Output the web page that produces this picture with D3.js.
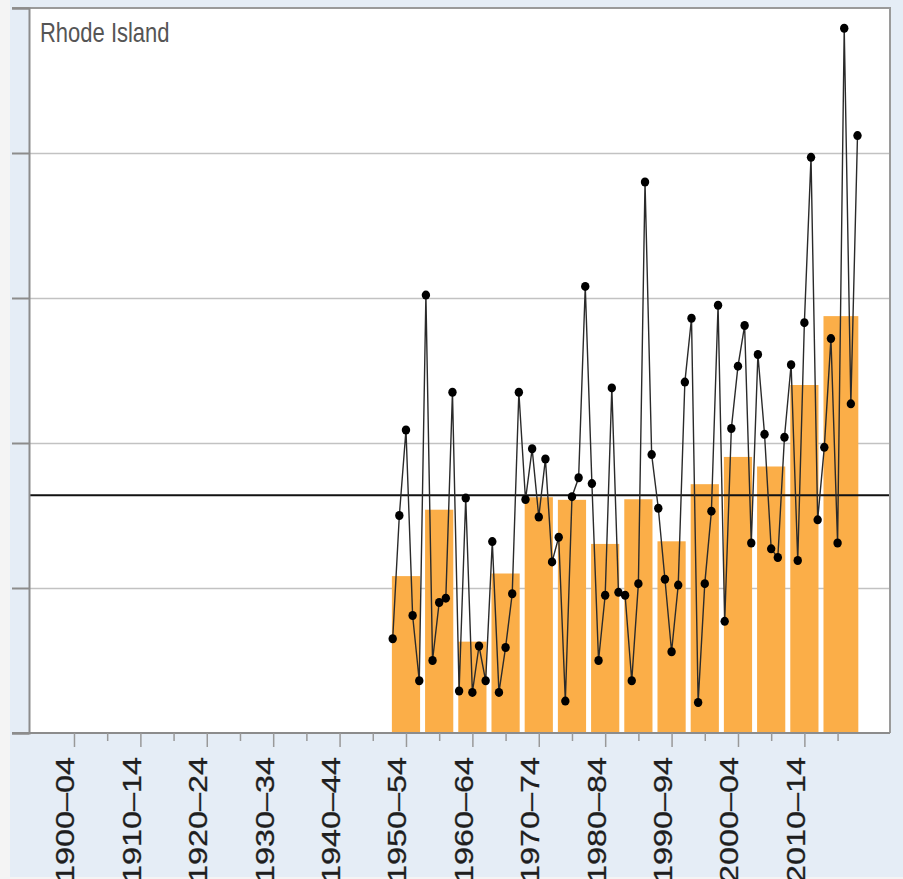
<!DOCTYPE html>
<html>
<head>
<meta charset="utf-8">
<script src="https://cdn.jsdelivr.net/npm/d3@7"></script>
<style>
  html, body { margin: 0; padding: 0; background: #f4f4f4; }
  svg { display: block; font-family: "Liberation Sans", Arial, sans-serif; }
</style>
</head>
<body>
<div id="chart"></div>
<script>
// Rhode Island — annual values with 5-year averages (bars)

const title = 'Rhode Island';
const firstYear = 1950;
// annual values 1950..2020 (gridline = 1 unit)
const annual = [
  0.65, 1.50, 2.09, 0.81, 0.36,   // 1950-54
  3.02, 0.50, 0.90, 0.93, 2.35,   // 1955-59
  0.29, 1.62, 0.28, 0.60, 0.36,   // 1960-64
  1.32, 0.28, 0.59, 0.96, 2.35,   // 1965-69
  1.61, 1.96, 1.49, 1.89, 1.18,   // 1970-74
  1.35, 0.22, 1.63, 1.76, 3.08,   // 1975-79
  1.72, 0.50, 0.95, 2.38, 0.97,   // 1980-84
  0.95, 0.36, 1.03, 3.80, 1.92,   // 1985-89
  1.55, 1.06, 0.56, 1.02, 2.42,   // 1990-94
  2.86, 0.21, 1.03, 1.53, 2.95,   // 1995-99
  0.77, 2.10, 2.53, 2.81, 1.31,   // 2000-04
  2.61, 2.06, 1.27, 1.21, 2.04,   // 2005-09
  2.54, 1.19, 2.83, 3.97, 1.47,   // 2010-14
  1.97, 2.72, 1.31, 4.86, 2.27,   // 2015-19
  4.12                            // 2020
];
// bar periods [start, end] — the last one runs to 2020
const periods = [
  [1950, 1954], [1955, 1959], [1960, 1964], [1965, 1969], [1970, 1974],
  [1975, 1979], [1980, 1984], [1985, 1989], [1990, 1994], [1995, 1999],
  [2000, 2004], [2005, 2009], [2010, 2014], [2015, 2020]
];
const longTermAvg = 1.64;
const yTicks = [0, 1, 2, 3, 4, 5];
const xLabels = ['1900–04', '1910–14', '1920–24', '1930–34', '1940–44', '1950–54',
                 '1960–64', '1970–74', '1980–84', '1990–94', '2000–04', '2010–14'];
const xMinor = [1905, 1915, 1925, 1935, 1945, 1955, 1965, 1975, 1985, 1995, 2005, 2015];

const W = 903, H = 879;
const plot = { left: 29, right: 890, top: 8, bottom: 733 };
const stretch = 1.27; // picture is stretched vertically

const svg = d3.select('#chart').append('svg')
  .attr('width', W).attr('height', H);

// panel background
svg.append('rect').attr('x', 10).attr('y', 0).attr('width', W - 10).attr('height', 877)
  .attr('fill', '#e5edf6');
svg.append('rect').attr('x', plot.left).attr('y', plot.top)
  .attr('width', plot.right - plot.left).attr('height', plot.bottom - plot.top)
  .attr('fill', '#fff');

const x = d3.scaleLinear().domain([1950, 2020]).range([392.7, 857.5]);
const yr = x(1951) - x(1950);
const y = d3.scaleLinear().domain([0, 5]).range([plot.bottom, plot.top]);

// gridlines
svg.append('g')
  .attr('transform', `translate(${plot.left},0)`)
  .call(d3.axisRight(y).tickValues([1, 2, 3, 4]).tickSize(plot.right - plot.left).tickFormat(''))
  .call(g => g.select('.domain').remove())
  .call(g => g.selectAll('line').attr('stroke', '#c2c2c2').attr('stroke-width', 1.6));

// 5-year averages
const bars = periods.map(([s, e]) => ({
  s, e, v: d3.mean(annual.slice(s - firstYear, e - firstYear + 1))
}));
svg.append('g').selectAll('rect').data(bars).enter().append('rect')
  .attr('x', d => x(d.s) - yr / 2 + 2.5)
  .attr('width', d => x(d.e) - x(d.s) + yr - 5)
  .attr('y', d => y(d.v))
  .attr('height', d => y(0) - y(d.v))
  .attr('fill', '#fbae48');

// long-term average
svg.append('line')
  .attr('x1', plot.left).attr('x2', plot.right)
  .attr('y1', y(longTermAvg)).attr('y2', y(longTermAvg))
  .attr('stroke', '#111').attr('stroke-width', 2);

// annual line + points
const pts = annual.map((v, i) => ({ year: firstYear + i, v }));
svg.append('path').datum(pts)
  .attr('fill', 'none').attr('stroke', '#2a2a2a').attr('stroke-width', 1.4)
  .attr('d', d3.line().x(d => x(d.year)).y(d => y(d.v)));
svg.append('g').selectAll('ellipse').data(pts).enter().append('ellipse')
  .attr('cx', d => x(d.year)).attr('cy', d => y(d.v))
  .attr('rx', 4.2).attr('ry', 4.5).attr('fill', '#000');

// frame: right + top border
svg.append('path')
  .attr('d', `M12,${plot.top}H${plot.right}V${plot.bottom}`)
  .attr('fill', 'none').attr('stroke', '#9a9a9a').attr('stroke-width', 2);

// y axis (ticks only, no labels)
svg.append('g')
  .attr('transform', `translate(${plot.left},0)`)
  .call(d3.axisLeft(y).tickValues(yTicks).tickSize(17).tickFormat(''))
  .call(g => g.select('.domain').attr('stroke', '#8c8c8c').attr('stroke-width', 2))
  .call(g => g.selectAll('line').attr('stroke', '#8c8c8c').attr('stroke-width', 2));

// x axis
svg.append('line')
  .attr('x1', 12).attr('x2', plot.right).attr('y1', plot.bottom).attr('y2', plot.bottom)
  .attr('stroke', '#8c8c8c').attr('stroke-width', 2);

const majorPos = xLabels.map(l => +l.slice(0, 4) + 2);
svg.append('g').attr('transform', `translate(0,${plot.bottom})`)
  .call(d3.axisBottom(x).tickValues(majorPos).tickSize(14).tickFormat(''))
  .call(g => g.select('.domain').remove())
  .call(g => g.selectAll('line').attr('stroke', '#999').attr('stroke-width', 1.5));
svg.append('g').attr('transform', `translate(0,${plot.bottom})`)
  .call(d3.axisBottom(x).tickValues(xMinor.map(v => v + 2)).tickSize(8).tickFormat(''))
  .call(g => g.select('.domain').remove())
  .call(g => g.selectAll('line').attr('stroke', '#999').attr('stroke-width', 1.5));

// period labels (the bottom of each is cut by the picture edge, as in the source)
svg.append('g').selectAll('text').data(xLabels).enter().append('text')
  .attr('transform', (d, i) => `translate(${x(majorPos[i]) + 0.5},757) rotate(-90) scale(${stretch},1)`)
  .attr('text-anchor', 'end')
  .attr('font-size', '25.5px')
  .attr('fill', '#1e1e1e')
  .attr('stroke', '#1e1e1e').attr('stroke-width', 0.3)
  .text(d => d);

// title
svg.append('text')
  .attr('transform', `translate(40,42) scale(1,${stretch})`)
  .attr('font-size', '22px')
  .attr('fill', '#555')
  .text(title);
</script>
</body>
</html>
